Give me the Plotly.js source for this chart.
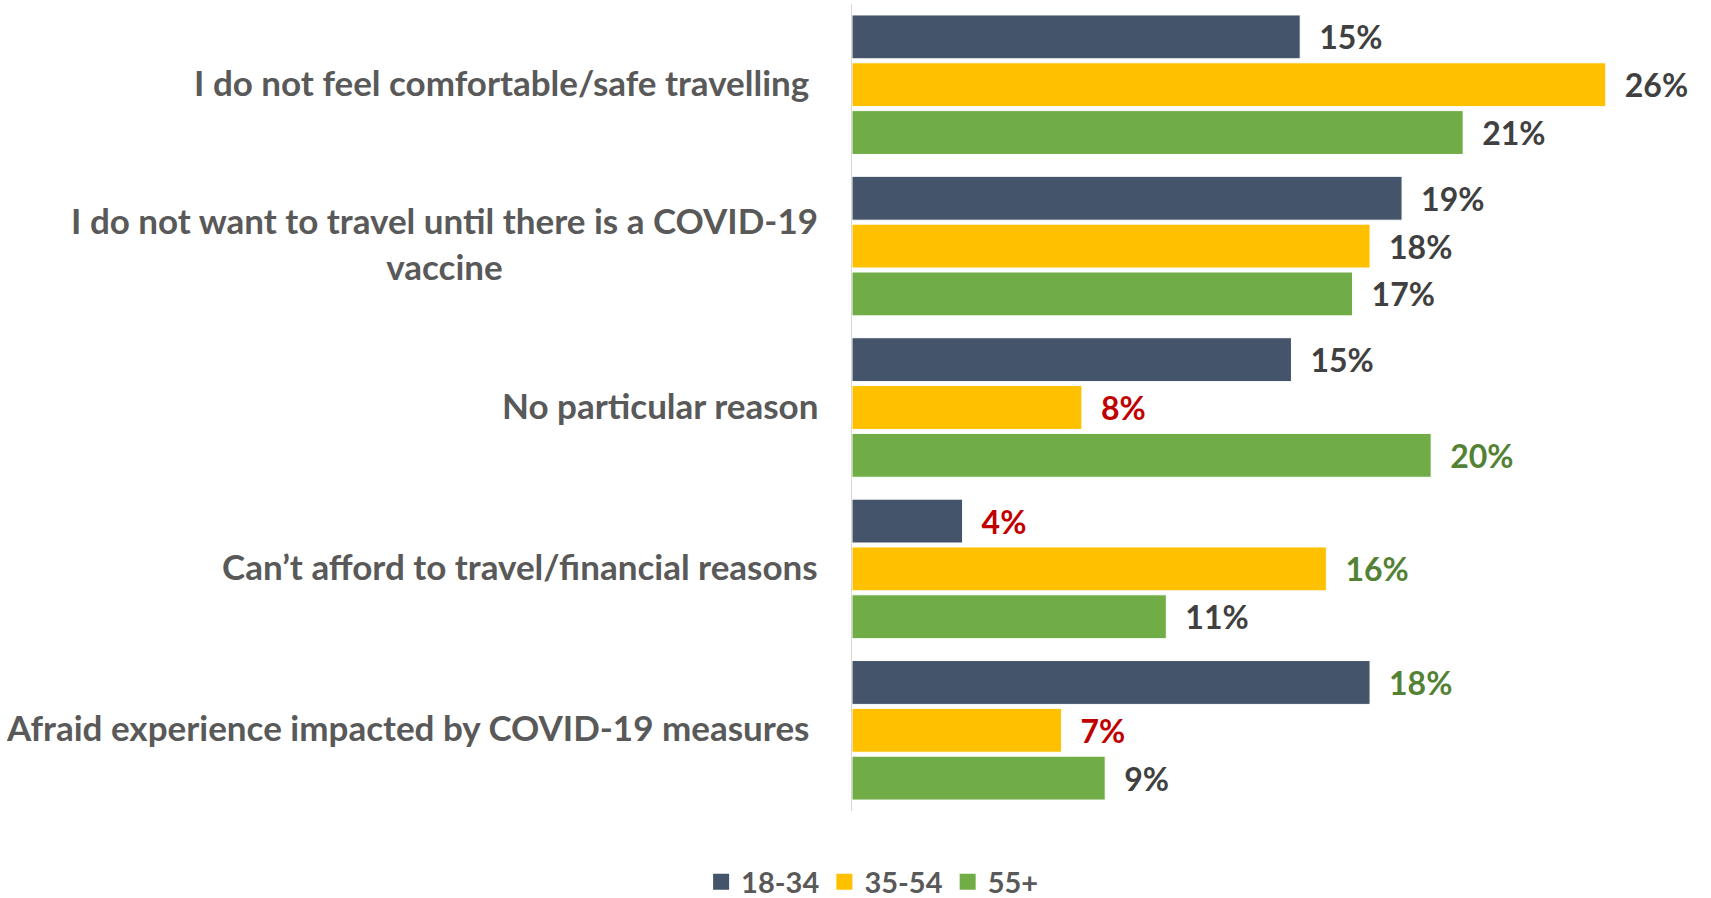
<!DOCTYPE html>
<html>
<head>
<meta charset="utf-8">
<script src="https://cdn.plot.ly/plotly-3.0.1.min.js"></script>
<style>
html,body{margin:0;padding:0;background:#fff;}
#chart{width:1711px;height:898px;}
</style>
</head>
<body>
<div id="chart"></div>
<script>
// ---- data ----
const categories = [
  "I do not feel comfortable/safe travelling\u00A0",
  "I do not want to travel until there is a COVID-19<br>vaccine",
  "No particular reason",
  "Can\u2019t afford to travel/financial reasons",
  "Afraid experience impacted by COVID-19 measures\u00A0"
];
const seriesNames = ["18-34", "35-54", "55+"];
const values_18_34 = [15.4, 18.9, 15.1, 3.8, 17.8];
const values_35_54 = [25.9, 17.8, 7.9, 16.3, 7.2];
const values_55p   = [21.0, 17.2, 19.9, 10.8, 8.7];
const labels_18_34 = ["15%", "19%", "15%", "4%", "18%"];
const labels_35_54 = ["26%", "18%", "8%", "16%", "7%"];
const labels_55p   = ["21%", "17%", "20%", "11%", "9%"];

// ---- styles ----
const DARK = "#404040", RED = "#C00000", GREEN = "#548235";
const labelColors = [
  [DARK, DARK, DARK, RED, GREEN],
  [DARK, DARK, RED, GREEN, RED],
  [DARK, DARK, GREEN, DARK, DARK]
];
const barColors = ["#44546A", "#FFC000", "#70AD47"];
const FONT = "Lato, 'Open Sans', sans-serif";

const vals = [values_18_34, values_35_54, values_55p];
const labs = [labels_18_34, labels_35_54, labels_55p];

const barTraces = seriesNames.map((name, i) => ({
  type: "bar",
  orientation: "h",
  name: name,
  legendgroup: name,
  showlegend: false,
  y: categories,
  x: vals[i],
  text: labs[i],
  texttemplate: "\u2002%{text}",
  textposition: "outside",
  constraintext: "none",
  cliponaxis: false,
  textfont: {family: FONT, size: 32, weight: 700, color: labelColors[i]},
  marker: {color: barColors[i], line: {color: "#FFFFFF", width: 1}},
  hoverinfo: "skip"
}));

// legend entries (square swatches)
const legendTraces = seriesNames.map((name, i) => ({
  type: "scatter",
  mode: "markers",
  name: name,
  legendgroup: name,
  x: [null], y: [null],
  marker: {symbol: "square", size: 18, color: barColors[i]},
  hoverinfo: "skip"
}));

const annotations = categories.map(c => ({
  xref: "paper", yref: "y",
  x: 0, y: c,
  xanchor: "right", yanchor: "middle",
  xshift: -32, yshift: 3,
  align: "center",
  showarrow: false,
  text: c,
  font: {family: FONT, size: 35, weight: 700, color: "#595959"}
}));

const layout = {
  width: 1711, height: 898,
  margin: {l: 852, r: 15, t: 4, b: 87, autoexpand: false},
  paper_bgcolor: "#FFFFFF", plot_bgcolor: "#FFFFFF",
  barmode: "group",
  bargap: 0.111,
  bargroupgap: 0.083,
  showlegend: true,
  legend: {
    orientation: "h",
    xref: "container", yref: "container",
    x: 0.51, xanchor: "center",
    y: 0.018, yanchor: "middle",
    itemwidth: 30,
    itemsizing: "trace",
    traceorder: "normal",
    font: {family: FONT, size: 29, weight: 700, color: "#595959"}
  },
  xaxis: {
    range: [0, 29],
    showgrid: false, zeroline: false, showline: false,
    showticklabels: false, ticks: ""
  },
  yaxis: {
    type: "category",
    categoryorder: "array", categoryarray: categories,
    range: [4.5, -0.5],
    showgrid: false, zeroline: false,
    showline: true, linecolor: "#D9D9D9", linewidth: 1.5,
    showticklabels: false, ticks: ""
  },
  annotations: annotations
};

Plotly.newPlot("chart", barTraces.concat(legendTraces), layout, {displayModeBar: false, staticPlot: true});
</script>
</body>
</html>
